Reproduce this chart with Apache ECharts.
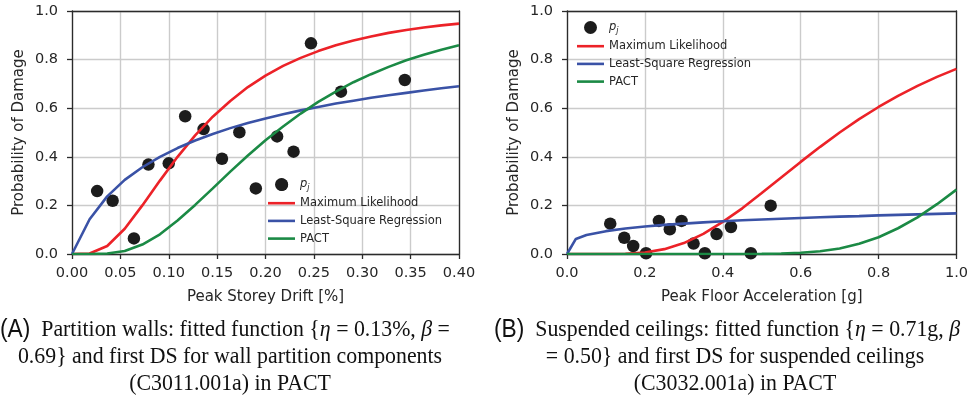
<!DOCTYPE html>
<html>
<head>
<meta charset="utf-8">
<script src="https://cdn.jsdelivr.net/npm/echarts@6/dist/echarts.min.js"></script>
<style>
html,body{margin:0;padding:0;background:#fff;}
#c{width:971px;height:401px;}
</style>
</head>
<body>
<div id="c"></div>
<script>
// ---- Panel A: partition walls ----
const driftPtsX = [0.026, 0.042, 0.064, 0.079, 0.100, 0.117, 0.136, 0.155, 0.173, 0.190, 0.212, 0.217, 0.229, 0.247, 0.278, 0.344];
const driftPtsY = [0.259, 0.219, 0.064, 0.368, 0.373, 0.567, 0.514, 0.392, 0.501, 0.270, 0.484, 0.285, 0.421, 0.867, 0.668, 0.716];
const driftX = [0, 0.0182, 0.0364, 0.0545, 0.0727, 0.0909, 0.1091, 0.1273, 0.1455, 0.1636, 0.1818, 0.2, 0.2182, 0.2364, 0.2545, 0.2727, 0.2909, 0.3091, 0.3273, 0.3455, 0.3636, 0.3818, 0.4];
const driftML = [0, 0.002, 0.033, 0.104, 0.200, 0.302, 0.400, 0.488, 0.565, 0.630, 0.687, 0.734, 0.774, 0.807, 0.835, 0.859, 0.879, 0.895, 0.910, 0.922, 0.932, 0.941, 0.948];
const driftLSR = [0, 0.143, 0.237, 0.305, 0.357, 0.400, 0.436, 0.467, 0.494, 0.518, 0.539, 0.558, 0.575, 0.591, 0.605, 0.619, 0.631, 0.643, 0.653, 0.663, 0.673, 0.682, 0.690];
const driftPACT = [0, 0, 0.002, 0.012, 0.039, 0.081, 0.138, 0.202, 0.270, 0.339, 0.405, 0.468, 0.525, 0.578, 0.626, 0.668, 0.707, 0.740, 0.770, 0.797, 0.820, 0.841, 0.859];

// ---- Panel B: suspended ceilings ----
const pfaPtsX = [0.111, 0.147, 0.170, 0.203, 0.236, 0.264, 0.294, 0.325, 0.354, 0.384, 0.421, 0.472, 0.523];
const pfaPtsY = [0.125, 0.067, 0.033, 0.003, 0.136, 0.102, 0.136, 0.043, 0.003, 0.082, 0.111, 0.003, 0.199];
const pfaX = [0, 0.0227, 0.05, 0.1, 0.15, 0.2, 0.25, 0.3, 0.35, 0.4, 0.45, 0.5, 0.55, 0.6, 0.65, 0.7, 0.75, 0.8, 0.85, 0.9, 0.95, 1.0];
const pfaML = [0, 0, 0, 0, 0.001, 0.006, 0.020, 0.045, 0.083, 0.132, 0.188, 0.251, 0.315, 0.379, 0.441, 0.500, 0.555, 0.605, 0.651, 0.692, 0.729, 0.762];
const pfaLSR = [0, 0.062, 0.078, 0.094, 0.105, 0.113, 0.120, 0.125, 0.130, 0.135, 0.139, 0.142, 0.145, 0.148, 0.151, 0.154, 0.156, 0.159, 0.161, 0.163, 0.165, 0.167];
const pfaPACT = [0, 0, 0, 0, 0, 0, 0, 0, 0, 0, 0, 0.0005, 0.002, 0.005, 0.011, 0.023, 0.042, 0.069, 0.106, 0.151, 0.205, 0.265];

const legendNames = ['pj', 'Maximum Likelihood', 'Least-Square Regression', 'PACT'];
const xNameA = 'Peak Storey Drift [%]';
const xNameB = 'Peak Floor Acceleration [g]';
const yName = 'Probability of Damage';

const COL = {pts: '#1c1c1c', ml: '#ec2228', lsr: '#3a52a6', pact: '#1b8a45'};
const TXT = '#262626';
const SPINE = '#2b2b2b';
const GRIDC = '#cbcbcb';

function pairs(xs, ys) { return xs.map((x, i) => [x, ys[i]]); }

function mainX(gi, max, interval, dec, name) {
  return {
    type: 'value', gridIndex: gi, min: 0, max: max, interval: interval,
    name: name, nameLocation: 'middle', nameGap: 36,
    nameTextStyle: {fontFamily: 'DejaVu Sans', fontSize: 15, color: TXT},
    axisLine: {show: true, lineStyle: {color: SPINE, width: 1.3}},
    axisTick: {show: true, inside: false, length: 5, lineStyle: {color: SPINE, width: 1.3}},
    axisLabel: {fontFamily: 'DejaVu Sans', fontSize: 14.5, color: TXT, margin: 12,
      formatter: v => v.toFixed(dec)},
    splitLine: {show: true, lineStyle: {color: GRIDC, width: 1.4}}
  };
}
function mainY(gi) {
  return {
    type: 'value', gridIndex: gi, min: 0, max: 1, interval: 0.2,
    name: yName, nameLocation: 'middle', nameGap: 45, nameRotate: 90,
    nameTextStyle: {fontFamily: 'DejaVu Sans', fontSize: 15, color: TXT},
    axisLine: {show: true, lineStyle: {color: SPINE, width: 1.3}},
    axisTick: {show: true, inside: false, length: 5, lineStyle: {color: SPINE, width: 1.3}},
    axisLabel: {fontFamily: 'DejaVu Sans', fontSize: 14.5, color: TXT, margin: 14,
      formatter: v => v.toFixed(1)},
    splitLine: {show: true, lineStyle: {color: GRIDC, width: 1.4}}
  };
}
function frameAxis(gi, pos, max) {
  return {
    type: 'value', gridIndex: gi, position: pos, min: 0, max: max,
    axisLine: {show: true, onZero: false, lineStyle: {color: SPINE, width: 1.3}},
    axisTick: {show: false}, axisLabel: {show: false}, splitLine: {show: false}
  };
}

const lineIcon = 'path://M0,0L27,0L27,2.6L0,2.6Z';
function legendFor(left, top) {
  return {
    orient: 'vertical', left: left, top: top, padding: 0,
    itemWidth: 27, itemHeight: 13, itemGap: 4.7,
    textStyle: {fontFamily: 'DejaVu Sans', fontSize: 11.5, color: TXT, lineHeight: 13,
      rich: {p: {fontFamily: 'DejaVu Sans', fontStyle: 'italic', fontSize: 11.5, lineHeight: 15},
             j: {fontFamily: 'DejaVu Sans', fontStyle: 'italic', fontSize: 8, lineHeight: 9, verticalAlign: 'bottom'}}},
    formatter: n => n === 'pj' ? '{p|p}{j|j}' : n,
    selectedMode: false,
    data: [
      {name: legendNames[0], icon: 'circle'},
      {name: legendNames[1], icon: lineIcon},
      {name: legendNames[2], icon: lineIcon},
      {name: legendNames[3], icon: lineIcon}
    ]
  };
}

function lineSeries(name, xi, data, color) {
  return {type: 'line', name: name, xAxisIndex: xi, yAxisIndex: xi, data: data,
    showSymbol: false, smooth: false, z: 3, silent: true,
    lineStyle: {color: color, width: 2.6}, itemStyle: {color: color}};
}

const serif = 'Liberation Serif';
const CAP_SIZE = 24;
const CAP_SCALE = 0.91;
function captionText(x, y, text, align, rich) {
  const st = {text: text, x: 0, y: 0, fontFamily: serif, fontSize: CAP_SIZE, fill: '#111',
    align: align, textAlign: align, verticalAlign: 'middle', textVerticalAlign: 'middle'};
  if (rich) st.rich = rich;
  return {type: 'text', x: x, y: y, scaleX: CAP_SCALE, scaleY: 1, style: st};
}
const capRich = {
  a: {fontFamily: 'Liberation Sans', fontSize: 25, fill: '#111'},
  t: {fontFamily: serif, fontSize: CAP_SIZE, fill: '#111'},
  i: {fontFamily: serif, fontSize: CAP_SIZE, fontStyle: 'italic', fill: '#111'}
};
const capA1 = '{a|(A)}{t|  Partition walls: fitted function {}{i|η}{t| = 0.13%, }{i|β}{t| =}';
const capA2 = '0.69} and first DS for wall partition components';
const capA3 = '(C3011.001a) in PACT';
const capB1 = '{a|(B)}{t|  Suspended ceilings: fitted function {}{i|η}{t| = 0.71g, }{i|β}';
const capB2 = '= 0.50} and first DS for suspended ceilings';
const capB3 = '(C3032.001a) in PACT';

const chart = echarts.init(document.getElementById('c'), null, {renderer: 'canvas'});
chart.setOption({
  animation: false,
  backgroundColor: '#ffffff',
  grid: [
    {left: 72, top: 11, width: 387, height: 243},
    {left: 567, top: 11, width: 392, height: 243}
  ],
  xAxis: [
    mainX(0, 0.4, 0.05, 2, xNameA),
    mainX(1, 1.0, 0.2, 1, xNameB),
    frameAxis(0, 'top', 0.4),
    frameAxis(1, 'top', 1.0)
  ],
  yAxis: [
    mainY(0), mainY(1),
    frameAxis(0, 'right', 1),
    frameAxis(1, 'right', 1)
  ],
  legend: [legendFor(268, 177), legendFor(577, 20)],
  series: [
    {type: 'scatter', name: 'pj', xAxisIndex: 0, yAxisIndex: 0, data: pairs(driftPtsX, driftPtsY),
      symbolSize: 12.5, z: 2, silent: true, itemStyle: {color: COL.pts, opacity: 1}},
    lineSeries('Maximum Likelihood', 0, pairs(driftX, driftML), COL.ml),
    lineSeries('Least-Square Regression', 0, pairs(driftX, driftLSR), COL.lsr),
    lineSeries('PACT', 0, pairs(driftX, driftPACT), COL.pact),
    {type: 'scatter', name: 'pj', xAxisIndex: 1, yAxisIndex: 1, data: pairs(pfaPtsX, pfaPtsY),
      symbolSize: 12.5, z: 2, silent: true, itemStyle: {color: COL.pts, opacity: 1}},
    lineSeries('Maximum Likelihood', 1, pairs(pfaX, pfaML), COL.ml),
    lineSeries('Least-Square Regression', 1, pairs(pfaX, pfaLSR), COL.lsr),
    lineSeries('PACT', 1, pairs(pfaX, pfaPACT), COL.pact)
  ],
  graphic: [
    captionText(0, 330, capA1, 'left', capRich),
    captionText(230, 357, capA2, 'center'),
    captionText(230, 384, capA3, 'center'),
    captionText(494, 330, capB1, 'left', capRich),
    captionText(735, 357, capB2, 'center'),
    captionText(735, 384, capB3, 'center')
  ]
});
</script>
</body>
</html>
